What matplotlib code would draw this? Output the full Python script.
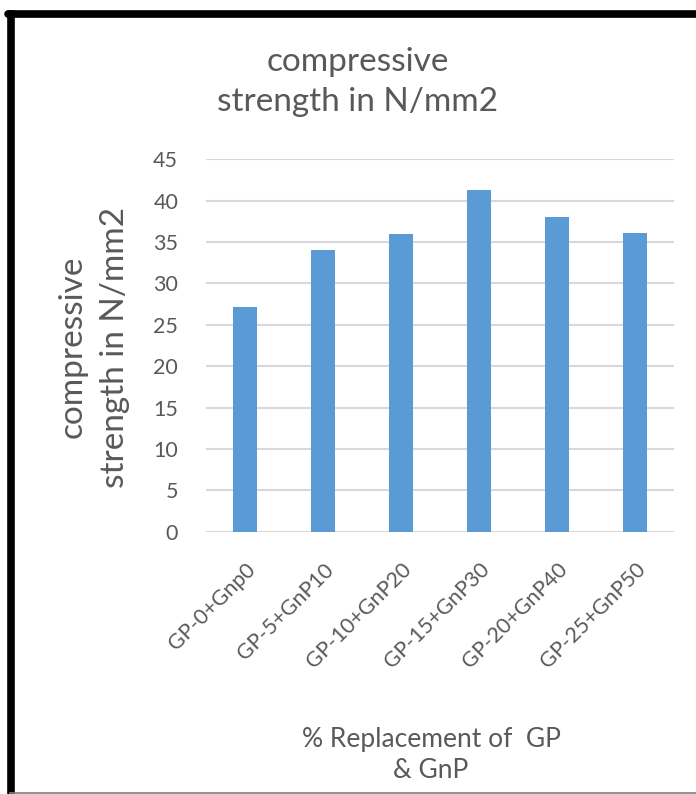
import matplotlib
matplotlib.use("Agg")
import matplotlib.pyplot as plt
from matplotlib.lines import Line2D

categories = ["GP-0+Gnp0", "GP-5+GnP10", "GP-10+GnP20", "GP-15+GnP30", "GP-20+GnP40", "GP-25+GnP50"]
values = [27.1, 34.1, 36.0, 41.25, 38.0, 36.1]
yticks = [0, 5, 10, 15, 20, 25, 30, 35, 40, 45]

plt.rcParams['font.family'] = ['Lato', 'DejaVu Sans']
gray = '#595959'
W, H = 696, 794
fig = plt.figure(figsize=(W/100, H/100), dpi=100)

def fx(px): return px / W
def fy(py): return 1 - py / H

ax = fig.add_axes([fx(206), fy(531.7), fx(674) - fx(206), fy(159.3) - fy(531.7)])
x = list(range(len(categories)))
ax.bar(x, values, width=0.32, color='#5B9BD5', zorder=3)
ax.set_xlim(-0.5, len(categories) - 0.5)
ax.set_ylim(0, 45)
ax.set_yticks(yticks)
ax.set_yticklabels([str(t) for t in yticks], color=gray, fontsize=15.5)
ax.set_xticks(x)
ax.set_xticklabels(categories, rotation=45, ha='right', va='top', rotation_mode='anchor',
                   color=gray, fontsize=15.5)
ax.tick_params(axis='both', length=0)
ax.tick_params(axis='y', pad=20)
ax.tick_params(axis='x', pad=20)
ax.grid(axis='y', color='#d9d9d9', linewidth=1.5, zorder=0)
for s in ax.spines.values():
    s.set_visible(False)

fig.text(fx(358), fy(82), "compressive\nstrength in N/mm2", ha='center', va='center',
         color=gray, fontsize=24, linespacing=1.45)
fig.text(fx(94), fy(347), "compressive\nstrength in N/mm2", ha='center', va='center',
         rotation=90, color=gray, fontsize=24, linespacing=1.5)
fig.text(fx(431), fy(755), "% Replacement of  GP\n& GnP", ha='center', va='center',
         color=gray, fontsize=19, linespacing=1.35)

# frame
fig.add_artist(Line2D([fx(10.5), fx(10.5)], [fy(14), fy(794)], color='black', linewidth=5.5, transform=fig.transFigure))
fig.add_artist(Line2D([fx(8), fx(696)], [fy(14), fy(14)], color='black', linewidth=5.5, transform=fig.transFigure, solid_capstyle='round'))
fig.add_artist(Line2D([fx(10), fx(696)], [fy(792.5), fy(792.5)], color='#808080', linewidth=1.2, transform=fig.transFigure))

fig.savefig("out.png", dpi=100)
